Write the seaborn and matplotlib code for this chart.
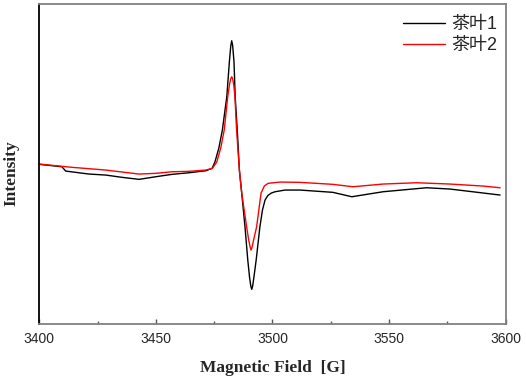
import numpy as np
import pandas as pd
import matplotlib
matplotlib.use("Agg")
import matplotlib.pyplot as plt
import seaborn as sns
from matplotlib.ticker import MultipleLocator, NullLocator

# EPR spectra (field in G, intensity in arbitrary units)
field_1 = [3400.0, 3409.7, 3411.3, 3421.3, 3428.5, 3435.5, 3442.8, 3449.9, 3456.9,
           3464.2, 3471.4, 3474.1, 3475.3, 3477.0, 3478.5, 3480.4, 3481.5, 3482.1,
           3482.5, 3482.9, 3483.5, 3484.0, 3484.9, 3485.8, 3486.8, 3488.2, 3489.4,
           3490.2, 3490.7, 3491.1, 3491.5, 3492.1, 3493.0, 3494.6, 3495.7, 3496.8,
           3498.0, 3499.5, 3501.1, 3505.4, 3511.8, 3525.9, 3534.0, 3547.4, 3566.1,
           3576.1, 3583.3, 3597.6]
intensity_1 = [5.7, 3.3, -1.0, -4.0, -5.0, -7.3, -9.3, -6.7, -4.3,
               -2.7, -0.7, 1.7, 8.0, 22.0, 40.0, 73.3, 108.0, 124.0,
               129.3, 125.0, 108.0, 73.3, 40.0, 0.0, -23.0, -56.7, -90.0,
               -108.0, -116.0, -119.3, -116.0, -106.0, -90.0, -56.7, -40.0, -30.0,
               -25.5, -23.0, -21.7, -20.0, -20.0, -22.3, -26.7, -21.7, -17.7,
               -19.0, -21.0, -25.0]

field_2 = [3400.0, 3414.2, 3428.5, 3442.8, 3449.9, 3456.9, 3464.2, 3471.4, 3474.2,
           3476.1, 3477.8, 3479.3, 3480.8, 3481.6, 3482.1, 3482.5, 3482.9, 3483.4,
           3483.9, 3484.6, 3485.8, 3486.8, 3488.9, 3489.8, 3490.4, 3490.8, 3491.2,
           3491.8, 3493.2, 3495.1, 3496.5, 3498.1, 3503.2, 3511.8, 3525.9, 3534.5,
           3547.4, 3561.8, 3576.1, 3590.3, 3597.6]
intensity_2 = [6.0, 2.7, 0.0, -4.0, -3.3, -1.7, -1.3, 0.0, 1.7,
               8.0, 22.0, 40.0, 73.3, 86.0, 91.5, 93.3, 91.5, 85.0,
               73.3, 40.0, 0.0, -23.0, -56.7, -70.0, -77.0, -80.0, -77.5,
               -71.0, -56.7, -23.0, -16.0, -13.3, -12.0, -12.3, -14.3, -16.7,
               -14.0, -12.7, -14.0, -16.0, -17.7]

labels = ["茶叶1", "茶叶2"]

df = pd.concat([
    pd.DataFrame({"field": field_1, "intensity": intensity_1, "sample": labels[0]}),
    pd.DataFrame({"field": field_2, "intensity": intensity_2, "sample": labels[1]}),
])

sns.set_style("white")
plt.rcParams["font.family"] = ["Liberation Sans", "Noto Sans CJK SC", "DejaVu Sans"]

fig = plt.figure(figsize=(5.26, 3.81), dpi=100)
ax = fig.add_axes([0.0747, 0.1496, 0.8867, 0.8404])

sns.lineplot(data=df, x="field", y="intensity", hue="sample",
             palette={labels[0]: "black", labels[1]: "red"},
             linewidth=1.0, sort=False, estimator=None, ax=ax)

ax.set_xlim(3400, 3600)
ax.set_ylim(-154, 166.3)
ax.xaxis.set_major_locator(MultipleLocator(50))
ax.xaxis.set_minor_locator(MultipleLocator(25))
ax.yaxis.set_major_locator(NullLocator())
ax.tick_params(axis="x", which="major", direction="in", length=3.5, width=1,
               color="#555555", labelsize=10, pad=6)
ax.tick_params(axis="x", which="minor", direction="in", length=2, width=1,
               color="#555555")
ax.tick_params(axis="x", which="both", bottom=True)

for side in ["top", "right", "bottom"]:
    ax.spines[side].set_color("#808080")
    ax.spines[side].set_linewidth(1.3)
ax.spines["left"].set_color("black")
ax.spines["left"].set_linewidth(1.3)

ax.set_xlabel("Magnetic Field  [G]", family="Liberation Serif",
              fontweight="bold", fontsize=12.5, labelpad=10)
ax.set_ylabel("Intensity", family="Liberation Serif",
              fontweight="bold", fontsize=12.5)
ax.yaxis.set_label_coords(-0.042, 0.47)

leg = ax.legend(loc="upper right", bbox_to_anchor=(1.009, 1.0), frameon=False,
                handlelength=2.35, handletextpad=0.35,
                labelspacing=0.2, borderaxespad=0.3,
                prop={"family": ["Liberation Sans", "Noto Sans CJK SC"], "size": 13})

fig.savefig("out.png", dpi=100)
